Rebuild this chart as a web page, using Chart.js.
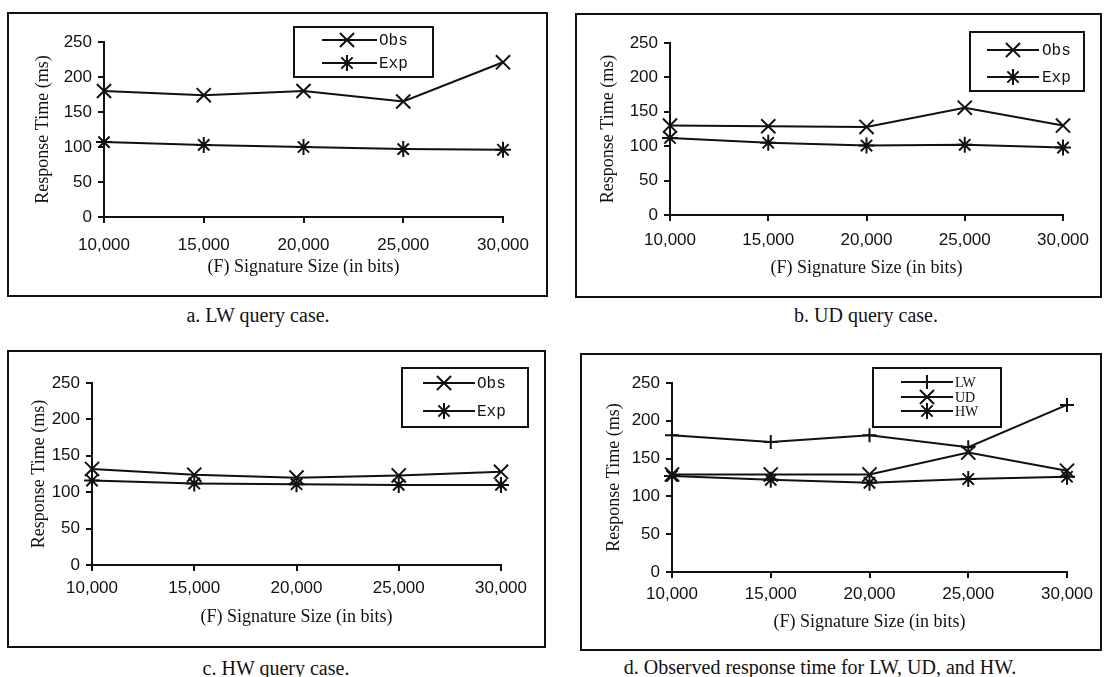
<!DOCTYPE html>
<html>
<head>
<meta charset="utf-8">
<script src="https://cdn.jsdelivr.net/npm/chart.js@4.4.1/dist/chart.umd.min.js"></script>
<style>
  body { margin: 0; background: #fff; width: 1104px; height: 677px; position: relative; overflow: hidden; }
  .frame { position: absolute; border: 2px solid #111; box-sizing: border-box; }
  .frame canvas { position: absolute; left: 0; top: 0; }
  .caption {
    position: absolute; font-family: 'Liberation Serif', 'Times New Roman', serif;
    font-size: 20px; line-height: 1; color: #111; white-space: nowrap;
    transform: translate(-50%, -50%);
  }
</style>
</head>
<body>
<div class="frame" id="pa"><canvas></canvas></div>
<div class="frame" id="pb"><canvas></canvas></div>
<div class="frame" id="pc"><canvas></canvas></div>
<div class="frame" id="pd"><canvas></canvas></div>
<div class="caption" style="left:258px; top:315px;">a. LW query case.</div>
<div class="caption" style="left:866px; top:315px;">b. UD query case.</div>
<div class="caption" style="left:276px; top:668px;">c. HW query case.</div>
<div class="caption" style="left:820px; top:667px;">d. Observed response time for LW, UD, and HW.</div>
<script>
// signature sizes (x categories)
const sizes = ['10,000', '15,000', '20,000', '25,000', '30,000'];
const yTicks = [0, 50, 100, 150, 200, 250];

// a. LW query case
const lwObs = [180, 174, 180, 165, 221];
const lwExp = [107, 103, 100, 97, 96];
// b. UD query case
const udObs = [130, 129, 128, 156, 130];
const udExp = [112, 105, 101, 102, 98];
// c. HW query case
const hwObs = [132, 124, 120, 123, 128];
const hwExp = [116, 112, 111, 110, 110];
// d. observed times, all three cases
const obsLW = [181, 172, 181, 165, 221];
const obsUD = [129, 129, 129, 158, 134];
const obsHW = [127, 122, 118, 123, 126];

const ink = '#111';
const sans = "'Liberation Sans', Arial, sans-serif";
const serif = "'Liberation Serif', 'Times New Roman', serif";
const mono = "'Liberation Mono', 'Courier New', monospace";

function drawMark(ctx, style, r, x, y) {
  if (Chart.helpers && Chart.helpers.drawPoint) {
    Chart.helpers.drawPoint(ctx, { pointStyle: style, radius: r, rotation: 0, borderWidth: 2 }, x, y);
    return;
  }
  ctx.beginPath();
  const d = r * Math.SQRT1_2;
  if (style !== 'crossRot') { ctx.moveTo(x - r, y); ctx.lineTo(x + r, y); ctx.moveTo(x, y - r); ctx.lineTo(x, y + r); }
  if (style !== 'cross') { ctx.moveTo(x - d, y - d); ctx.lineTo(x + d, y + d); ctx.moveTo(x - d, y + d); ctx.lineTo(x + d, y - d); }
  ctx.stroke();
}

// boxed legend with line-through-marker samples
const boxLegend = {
  id: 'boxLegend',
  afterDraw(chart, args, opts) {
    const ctx = chart.ctx;
    const o = opts.origin;
    ctx.save();
    ctx.strokeStyle = ink;
    ctx.fillStyle = ink;
    ctx.lineWidth = 2;
    const b = opts.box;
    ctx.strokeRect(b[0] - o[0], b[1] - o[1], b[2] - b[0], b[3] - b[1]);
    ctx.font = opts.font;
    ctx.textBaseline = 'middle';
    chart.data.datasets.forEach((ds, i) => {
      const y = opts.rows[i] - o[1];
      ctx.beginPath();
      ctx.moveTo(opts.line[0] - o[0], y);
      ctx.lineTo(opts.line[1] - o[0], y);
      ctx.stroke();
      drawMark(ctx, ds.pointStyle, ds.pointRadius, opts.markX - o[0], y);
      ctx.fillText(ds.label, opts.textX - o[0], y + 1);
    });
    ctx.restore();
  }
};

function makePanel(p) {
  const el = document.getElementById(p.id);
  const f = p.frame;
  el.style.left = f[0] + 'px';
  el.style.top = f[1] + 'px';
  el.style.width = (f[2] - f[0]) + 'px';
  el.style.height = (f[3] - f[1]) + 'px';
  const ox = f[0] + 2, oy = f[1] + 2;
  const cw = f[2] - f[0] - 4, ch = f[3] - f[1] - 4;
  const canvas = el.querySelector('canvas');
  canvas.width = cw; canvas.height = ch;
  canvas.style.width = cw + 'px'; canvas.style.height = ch + 'px';

  const titleSize = 18, lh = titleSize * 1.2;
  const padLeft = p.yTitleX - ox - lh / 2;
  const yW = p.plot[0] - ox - padLeft;
  const padTop = p.plot[1] - oy;
  const padRight = ox + cw - p.plot[2];
  const xH = p.xTitleY + lh / 2 - p.plot[3];
  const padBottom = oy + ch - p.plot[3] - xH;

  const axisGrid = { display: true, drawOnChartArea: false, drawTicks: true, tickLength: 6, color: ink, lineWidth: 2 };
  const axisBorder = { display: true, color: ink, width: 2 };

  new Chart(canvas.getContext('2d'), {
    type: 'line',
    data: {
      labels: sizes,
      datasets: p.series.map(s => ({
        label: s.label,
        data: s.data,
        borderColor: ink,
        backgroundColor: ink,
        borderWidth: 2,
        pointStyle: s.style,
        pointRadius: s.r,
        pointBorderWidth: 2,
        pointBorderColor: ink,
        fill: false,
        tension: 0
      }))
    },
    options: {
      responsive: false,
      animation: false,
      layout: { padding: { left: padLeft, top: padTop, right: padRight, bottom: padBottom } },
      scales: {
        x: {
          type: 'category',
          offset: false,
          grid: axisGrid,
          border: axisBorder,
          ticks: { color: ink, font: { family: sans, size: 17 }, padding: p.xPad, maxRotation: 0, autoSkip: false },
          title: { display: true, text: '(F) Signature Size (in bits)', color: ink, font: { family: serif, size: titleSize }, padding: 0 },
          afterFit(s) { s.height = xH; }
        },
        y: {
          min: yTicks[0],
          max: yTicks[yTicks.length - 1],
          grid: axisGrid,
          border: axisBorder,
          ticks: { stepSize: yTicks[1] - yTicks[0], color: ink, font: { family: sans, size: 17 }, padding: 6 },
          title: { display: true, text: 'Response Time (ms)', color: ink, font: { family: serif, size: titleSize }, padding: 0 },
          afterFit(s) { s.width = yW; }
        }
      },
      plugins: {
        legend: { display: false },
        tooltip: { enabled: false },
        boxLegend: Object.assign({ origin: [ox, oy] }, p.legend)
      }
    },
    plugins: [boxLegend]
  });
}

const obsExpLegend = (box, rows, line, markX, textX) => ({ box, rows, line, markX, textX, font: '16px ' + mono });

makePanel({
  id: 'pa', frame: [7, 12, 548, 297], plot: [104, 42, 503, 217], xTitleY: 267, yTitleX: 43, xPad: 12,
  series: [
    { label: 'Obs', data: lwObs, style: 'crossRot', r: 10 },
    { label: 'Exp', data: lwExp, style: 'star', r: 8 }
  ],
  legend: obsExpLegend([294, 27, 433, 77], [40, 63], [322, 377], 347, 379)
});

makePanel({
  id: 'pb', frame: [575, 13, 1102, 298], plot: [670, 43, 1063, 215], xTitleY: 268, yTitleX: 608, xPad: 9,
  series: [
    { label: 'Obs', data: udObs, style: 'crossRot', r: 10 },
    { label: 'Exp', data: udExp, style: 'star', r: 8 }
  ],
  legend: obsExpLegend([970, 32, 1084, 91], [50, 77], [987, 1039], 1013, 1042)
});

makePanel({
  id: 'pc', frame: [7, 350, 546, 648], plot: [92, 383, 501, 565], xTitleY: 617, yTitleX: 39, xPad: 7,
  series: [
    { label: 'Obs', data: hwObs, style: 'crossRot', r: 10 },
    { label: 'Exp', data: hwExp, style: 'star', r: 8 }
  ],
  legend: obsExpLegend([402, 368, 528, 427], [383, 411], [423, 475], 444, 477)
});

makePanel({
  id: 'pd', frame: [580, 353, 1102, 651], plot: [672, 383, 1067, 572], xTitleY: 622, yTitleX: 614, xPad: 6,
  series: [
    { label: 'LW', data: obsLW, style: 'cross', r: 7 },
    { label: 'UD', data: obsUD, style: 'crossRot', r: 10 },
    { label: 'HW', data: obsHW, style: 'star', r: 8 }
  ],
  legend: { box: [873, 368, 1001, 427], rows: [382, 397, 411], line: [901, 953], markX: 927, textX: 955, font: '14px ' + serif }
});
</script>
</body>
</html>
